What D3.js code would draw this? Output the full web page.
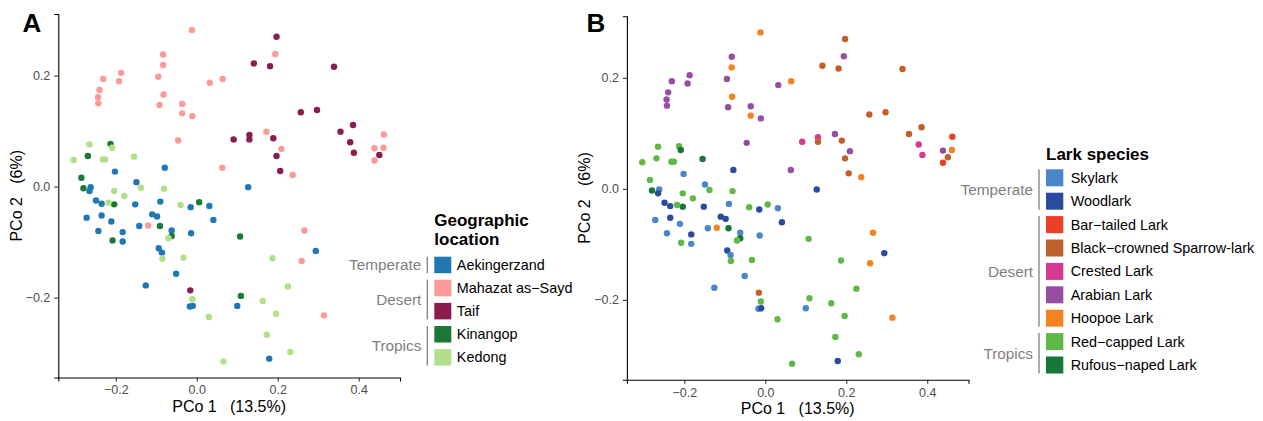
<!DOCTYPE html>
<html>
<head>
<meta charset="utf-8">
<style>
  body { margin: 0; background: #fff; }
  svg text { font-family: "Liberation Sans", Arial, Helvetica, sans-serif; }
</style>
</head>
<body>
<div id="chart"></div>
<script src="https://cdnjs.cloudflare.com/ajax/libs/d3/7.8.5/d3.min.js"></script>
<script>

// --- data ---------------------------------------------------------------
// sites: 0 Aekingerzand, 1 Mahazat as-Sayd, 2 Taif, 3 Kinangop, 4 Kedong
var siteNames = ["Aekingerzand", "Mahazat as\u2212Sayd", "Taif", "Kinangop", "Kedong"];
var siteColors = ["#1f78b4", "#fb9a99", "#8a1c50", "#1b7837", "#b2df8a"];

// species: 0 Skylark ... 8 Rufous-naped Lark
var speciesNames = ["Skylark", "Woodlark", "Bar\u2212tailed Lark", "Black\u2212crowned Sparrow-lark",
  "Crested Lark", "Arabian Lark", "Hoopoe Lark", "Red\u2212capped Lark", "Rufous\u2212naped Lark"];
var speciesColors = ["#4a86c8", "#2b4c9c", "#ea4027", "#c2602b", "#d63a8f", "#974ea2", "#f58220", "#5fb946", "#167838"];

var pco1 = [
  // Mahazat as-Sayd
  -0.012, -0.083, -0.083, -0.095, -0.082, -0.092, -0.187, -0.192, -0.231, -0.240, -0.244, -0.243,
  -0.036, -0.036, -0.011, -0.046, 0.032, 0.064, 0.063, 0.194, 0.462, 0.439, 0.461, 0.439,
  0.172, 0.209, 0.237, -0.120, 0.266, 0.259, 0.314,
  // Taif
  0.197, 0.141, 0.181, 0.339, 0.257, 0.297, 0.386, 0.355, 0.379, 0.388, 0.451, 0.091,
  0.130, 0.130, 0.189, 0.197, 0.206, -0.016,
  // Aekingerzand
  -0.079, -0.202, -0.149, -0.262, -0.265, -0.249, -0.235, -0.152, -0.090, -0.015, 0.031, -0.272,
  -0.235, -0.211, -0.243, -0.183, -0.183, -0.142, -0.110, -0.098, -0.062, -0.014, 0.041, -0.094,
  -0.086, -0.051, -0.126, -0.017, -0.010, 0.127, 0.294, 0.100, 0.179,
  // Kinangop
  -0.213, -0.269, -0.285, -0.280, -0.204, 0.006, -0.208, -0.091, -0.062, 0.107, 0.109,
  // Kedong
  -0.304, -0.265, -0.209, -0.232, -0.226, -0.155, -0.204, -0.179, -0.138, -0.081, -0.218, -0.040,
  -0.070, -0.085, -0.033, -0.011, 0.030, 0.187, 0.225, 0.163, 0.196, 0.173, 0.231, 0.066
];

var pco2 = [
  // Mahazat as-Sayd
  0.282, 0.238, 0.219, 0.198, 0.166, 0.147, 0.205, 0.190, 0.194, 0.174, 0.161, 0.150,
  0.149, 0.132, 0.127, 0.083, 0.187, 0.194, 0.034, 0.239, 0.094, 0.069, 0.070, 0.047,
  0.099, 0.068, 0.021, -0.070, -0.079, -0.134, -0.232,
  // Taif
  0.270, 0.222, 0.217, 0.216, 0.134, 0.138, 0.111, 0.099, 0.080, 0.061, 0.057, 0.085,
  0.093, 0.085, 0.087, 0.055, 0.028, -0.187,
  // Aekingerzand
  0.034, 0.027, 0.008, -0.001, -0.008, -0.025, -0.031, -0.032, -0.027, -0.037, -0.035, -0.056,
  -0.052, -0.063, -0.080, -0.082, -0.099, -0.071, -0.050, -0.054, -0.079, -0.084, -0.060, -0.111,
  -0.119, -0.157, -0.178, -0.216, -0.215, -0.001, -0.116, -0.215, -0.310,
  // Kinangop
  0.077, 0.055, 0.016, -0.003, -0.032, -0.028, -0.097, -0.071, -0.089, -0.090, -0.197,
  // Kedong
  0.048, 0.076, 0.070, 0.049, 0.049, 0.054, -0.008, -0.017, -0.002, -0.004, -0.029, -0.033,
  -0.093, -0.130, -0.128, -0.203, -0.235, -0.129, -0.180, -0.206, -0.229, -0.267, -0.298, -0.315
];

var site = [
  1,1,1,1,1,1,1,1,1,1,1,1,1,1,1,1,1,1,1,1,1,1,1,1,1,1,1,1,1,1,1,
  2,2,2,2,2,2,2,2,2,2,2,2,2,2,2,2,2,2,
  0,0,0,0,0,0,0,0,0,0,0,0,0,0,0,0,0,0,0,0,0,0,0,0,0,0,0,0,0,0,0,0,0,
  3,3,3,3,3,3,3,3,3,3,3,
  4,4,4,4,4,4,4,4,4,4,4,4,4,4,4,4,4,4,4,4,4,4,4,4
];

var species = [
  6,5,6,5,6,5,5,5,5,5,5,5,5,6,5,5,5,6,5,5,2,5,6,2,5,5,6,6,6,6,6,
  3,3,3,3,3,3,3,3,4,4,3,4,4,3,3,3,3,3,
  1,0,0,0,1,1,1,1,0,1,0,0,1,0,0,1,0,0,1,1,0,0,1,1,0,0,0,0,1,1,1,0,1,
  7,7,7,8,8,7,7,8,8,7,7,
  7,7,8,7,7,8,7,7,7,7,7,7,7,7,7,7,7,7,7,7,7,7,7,7
];

var xTicks = [-0.2, 0, 0.2, 0.4];
var yTicks = [-0.2, 0, 0.2];

// legend groups (indices into the names arrays)
var siteGroups = [["Temperate", [0]], ["Desert", [1, 2]], ["Tropics", [3, 4]]];
var speciesGroups = [["Temperate", [0, 1]], ["Desert", [2, 3, 4, 5, 6]], ["Tropics", [7, 8]]];

// --- drawing ------------------------------------------------------------
var W = 1263, H = 421;
var svg = d3.select("#chart").append("svg")
  .attr("width", W).attr("height", H);

var fmt = d3.format(".1f");

function drawPanel(p) {
  var x = d3.scaleLinear().domain([-0.342, 0.502]).range([p.left, p.right]);
  var y = d3.scaleLinear().domain([-0.344, 0.311]).range([p.bottom, p.top]);
  var g = svg.append("g");

  g.selectAll("circle")
    .data(d3.range(pco1.length))
    .enter().append("circle")
    .attr("cx", function(i) { return x(pco1[i]); })
    .attr("cy", function(i) { return y(pco2[i]); })
    .attr("r", 3.2)
    .attr("fill", function(i) { return p.color(i); });

  var xa = g.append("g")
    .attr("transform", "translate(0," + p.bottom + ")")
    .call(d3.axisBottom(x).tickValues(xTicks).tickFormat(fmt).tickSize(4).tickPadding(4));
  var ya = g.append("g")
    .attr("transform", "translate(" + p.left + ",0)")
    .call(d3.axisLeft(y).tickValues(yTicks).tickFormat(fmt).tickSize(4).tickPadding(4));

  [xa, ya].forEach(function(a) {
    a.select(".domain").attr("stroke", "#000").attr("stroke-width", 1.1);
    a.selectAll(".tick line").attr("stroke", "#333").attr("stroke-width", 1.1);
    a.selectAll(".tick text").attr("fill", "#4d4d4d")
      .style("font-family", "Liberation Sans, Arial, sans-serif").style("font-size", "12.5px");
  });

  g.append("text")
    .attr("x", (p.left + p.right) / 2).attr("y", p.bottom + 34)
    .attr("text-anchor", "middle").style("font-size", "16px")
    .attr("xml:space", "preserve")
    .text("PCo 1   (13.5%)");

  g.append("text")
    .attr("transform", "translate(" + (p.left - 36.7) + "," + ((p.top + p.bottom) / 2) + ") rotate(-90)")
    .attr("text-anchor", "middle").style("font-size", "16px")
    .attr("xml:space", "preserve")
    .text("PCo 2   (6%)");

  g.append("text")
    .attr("x", p.tagX).attr("y", 32.3)
    .style("font-size", "26px").style("font-weight", "bold")
    .text(p.tag);
}

function drawLegend(l) {
  var g = svg.append("g");
  l.title.forEach(function(t, i) {
    g.append("text")
      .attr("x", l.x).attr("y", l.titleY + i * 19)
      .style("font-size", "17px").style("font-weight", "bold")
      .text(t);
  });

  var row = 0;
  l.groups.forEach(function(grp) {
    var first = row;
    grp[1].forEach(function(k) {
      var top = l.keyTop + row * l.pitch;
      g.append("rect")
        .attr("x", l.x).attr("y", top)
        .attr("width", l.keyW).attr("height", l.keyH)
        .attr("fill", l.colors[k]);
      g.append("text")
        .attr("x", l.x + l.textDx).attr("y", top + l.keyH / 2 + 5)
        .style("font-size", "14.4px").attr("fill", "#000")
        .text(l.names[k]);
      row++;
    });
    var y0 = l.keyTop + first * l.pitch;
    var y1 = l.keyTop + (row - 1) * l.pitch + l.keyH;
    g.append("line")
      .attr("x1", l.x - 7).attr("x2", l.x - 7)
      .attr("y1", y0).attr("y2", y1)
      .attr("stroke", "#7f7f7f").attr("stroke-width", 1.3);
    g.append("text")
      .attr("x", l.x - 13).attr("y", (y0 + y1) / 2 + 5.4)
      .attr("text-anchor", "end")
      .style("font-size", "15.3px").attr("fill", "#7f7f7f")
      .text(grp[0]);
  });
}

drawPanel({ left: 58.3, right: 400, top: 14, bottom: 377.5, tag: "A", tagX: 22.5,
  color: function(i) { return siteColors[site[i]]; } });
drawPanel({ left: 626.9, right: 968.5, top: 16.3, bottom: 379.8, tag: "B", tagX: 586.5,
  color: function(i) { return speciesColors[species[i]]; } });

drawLegend({ x: 434.3, title: ["Geographic", "location"], titleY: 226, keyTop: 256.7, pitch: 23.1,
  keyW: 17, keyH: 16.5, textDx: 22.5,
  groups: siteGroups, names: siteNames, colors: siteColors });
drawLegend({ x: 1046, title: ["Lark species"], titleY: 159.5, keyTop: 169.3, pitch: 23.4,
  keyW: 17.3, keyH: 17, textDx: 24.7,
  groups: speciesGroups, names: speciesNames, colors: speciesColors });

</script>
</body>
</html>
